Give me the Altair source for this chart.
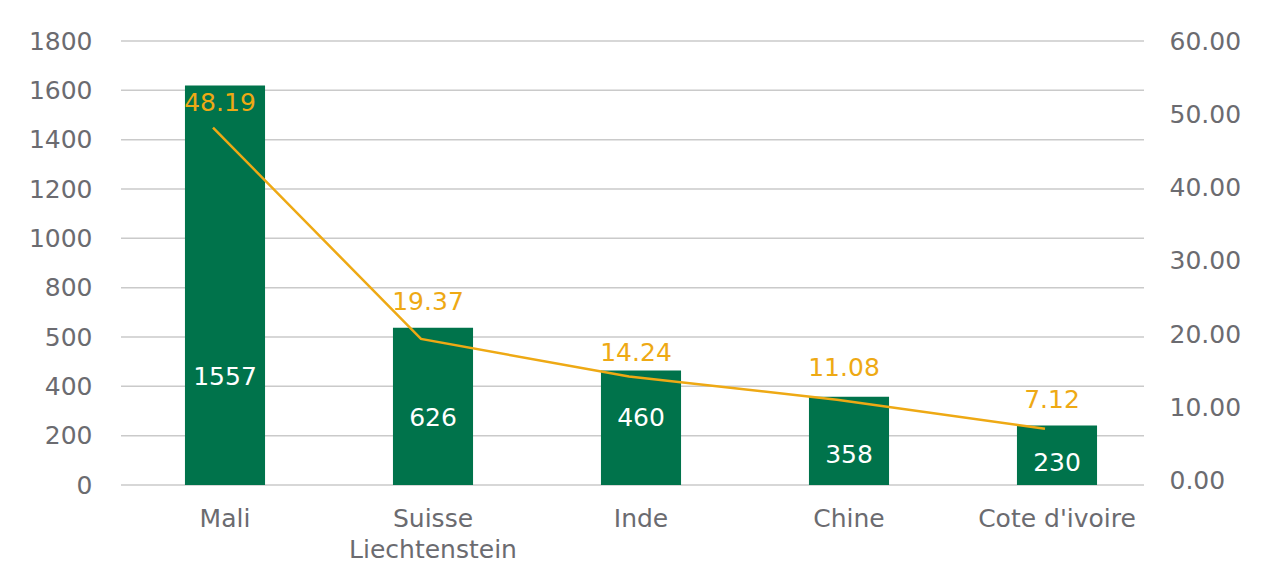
import altair as alt
import pandas as pd

# ---- data ----
countries = ["Mali", "Suisse Liechtenstein", "Inde", "Chine", "Cote d'ivoire"]
bar_values = [1620, 638, 464, 358, 241]          # bar heights as drawn (left axis)
bar_labels = ["1557", "626", "460", "358", "230"]  # printed bar labels
share_values = [48.19, 19.37, 14.24, 11.08, 7.12]  # line values (right axis)

# label anchors (data units) as placed in the picture
bar_label_at = [438, 272, 272, 122, 89]
share_label_at = [51.5, 24.4, 17.45, 15.4, 11.04]

left_ticks = [0, 200, 400, 600, 800, 1000, 1200, 1400, 1600, 1800]
left_tick_labels = ["0", "200", "400", "500", "800", "1000", "1200", "1400", "1600", "1800"]
right_ticks = [0, 10, 20, 30, 40, 50, 60]

GREEN = "#00734B"
ORANGE = "#EEA914"
GREY = "#6B6B70"
FONT = "DejaVu Sans"
FS = 25

df = pd.DataFrame({
    "country": countries,
    "bar": bar_values,
    "bar_label": bar_labels,
    "bar_label_at": bar_label_at,
    "share": share_values,
    "share_label": [f"{v:.2f}" for v in share_values],
    "share_label_at": share_label_at,
})
grid_df = pd.DataFrame({"tick": left_ticks})

label_expr = "datum.label"
for t, l in zip(left_ticks, left_tick_labels):
    label_expr = f"datum.value == {t} ? '{l}' : ({label_expr})"

x_axis = alt.Axis(
    title=None, domain=False, ticks=False, labelAngle=0, grid=False,
    labelFontSize=FS, labelColor=GREY, labelFont=FONT, labelPadding=21,
    labelLineHeight=31,
    labelExpr="datum.label == 'Suisse Liechtenstein' ? ['Suisse', 'Liechtenstein'] : datum.label",
)
x_scale = alt.Scale(paddingInner=0.615, paddingOuter=0.3075)


def xenc():
    return alt.X("country:N", sort=countries, scale=x_scale, axis=x_axis, title=None)


left_axis = alt.Axis(
    title=None, values=left_ticks, domain=False, ticks=False, grid=False,
    labelFontSize=FS, labelColor=GREY, labelFont=FONT, labelPadding=29,
    labelExpr=label_expr,
)
right_axis = alt.Axis(
    title=None, orient="right", values=right_ticks, format=".2f",
    domain=False, ticks=False, grid=False,
    labelFontSize=FS, labelColor=GREY, labelFont=FONT, labelPadding=8,
)

left_scale = alt.Scale(domain=[0, 1800], nice=False, zero=True)
right_scale = alt.Scale(domain=[-0.55, 60], nice=False, zero=False)

grid = alt.Chart(grid_df).mark_rule(color="#CACACA", strokeWidth=1.5).encode(
    y=alt.Y("tick:Q", scale=left_scale, axis=left_axis, title=None),
    x=alt.value(0),
    x2=alt.value(1023),
)

bars = alt.Chart(df).mark_bar(color=GREEN).encode(
    x=xenc(),
    y=alt.Y("bar:Q", scale=left_scale, axis=left_axis, title=None),
)

bar_text = alt.Chart(df).mark_text(
    color="white", fontSize=FS, font=FONT, baseline="middle"
).encode(
    x=xenc(),
    y=alt.Y("bar_label_at:Q", scale=left_scale, axis=left_axis, title=None),
    text="bar_label:N",
)

left = alt.layer(grid, bars, bar_text)

line = alt.Chart(df).mark_line(color=ORANGE, strokeWidth=2.5, xOffset=-12).encode(
    x=xenc(),
    y=alt.Y("share:Q", scale=right_scale, axis=right_axis, title=None),
)

line_text = alt.Chart(df).mark_text(
    color=ORANGE, fontSize=FS, font=FONT, baseline="middle", dx=-5
).encode(
    x=xenc(),
    y=alt.Y("share_label_at:Q", scale=right_scale, axis=right_axis, title=None),
    text="share_label:N",
)

right = alt.layer(line, line_text)

chart = alt.layer(left, right).resolve_scale(y="independent").properties(
    width=1040,
    height=444,
    background="white",
    autosize=alt.AutoSizeParams(type="none"),
    padding={"left": 113, "top": 33, "right": 100, "bottom": 90},
).configure_view(strokeWidth=0, stroke="transparent")

chart.save("out.html", embed_options={"renderer": "svg", "actions": False})
